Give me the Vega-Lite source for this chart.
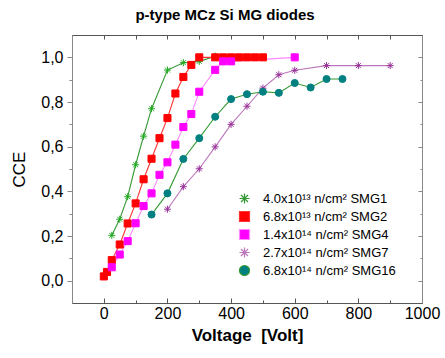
{
  "$schema": "https://vega.github.io/schema/vega-lite/v6.json",
  "width": 350,
  "height": 268,
  "autosize": "none",
  "padding": {"left": 72, "top": 35, "right": 23, "bottom": 55},
  "background": "white",
  "title": {"text": "p-type MCz Si MG diodes", "font": "Liberation Sans", "fontSize": 15, "fontWeight": "bold", "color": "black", "dx": -22, "offset": 12},
  "config": {
    "view": {"stroke": "#666"},
    "axis": {"labelFont": "Liberation Sans", "labelFontSize": 16, "labelColor": "black", "titleFont": "Liberation Sans", "titleColor": "black", "grid": false, "domainColor": "#555", "tickColor": "#555"}
  },
  "data": {"values": [
    {"s": "4.0x10¹³ n/cm² SMG1", "v": 25, "c": 0.203},
    {"s": "4.0x10¹³ n/cm² SMG1", "v": 50, "c": 0.275},
    {"s": "4.0x10¹³ n/cm² SMG1", "v": 75, "c": 0.376},
    {"s": "4.0x10¹³ n/cm² SMG1", "v": 100, "c": 0.519},
    {"s": "4.0x10¹³ n/cm² SMG1", "v": 125, "c": 0.647},
    {"s": "4.0x10¹³ n/cm² SMG1", "v": 150, "c": 0.77},
    {"s": "4.0x10¹³ n/cm² SMG1", "v": 200, "c": 0.943},
    {"s": "4.0x10¹³ n/cm² SMG1", "v": 250, "c": 0.976},
    {"s": "4.0x10¹³ n/cm² SMG1", "v": 300, "c": 0.982},
    {"s": "4.0x10¹³ n/cm² SMG1", "v": 350, "c": 1.005},
    {"s": "6.8x10¹³ n/cm² SMG2", "v": 0, "c": 0.019},
    {"s": "6.8x10¹³ n/cm² SMG2", "v": 10, "c": 0.039},
    {"s": "6.8x10¹³ n/cm² SMG2", "v": 25, "c": 0.092},
    {"s": "6.8x10¹³ n/cm² SMG2", "v": 50, "c": 0.162},
    {"s": "6.8x10¹³ n/cm² SMG2", "v": 75, "c": 0.256},
    {"s": "6.8x10¹³ n/cm² SMG2", "v": 100, "c": 0.346},
    {"s": "6.8x10¹³ n/cm² SMG2", "v": 125, "c": 0.454},
    {"s": "6.8x10¹³ n/cm² SMG2", "v": 150, "c": 0.546},
    {"s": "6.8x10¹³ n/cm² SMG2", "v": 175, "c": 0.638},
    {"s": "6.8x10¹³ n/cm² SMG2", "v": 200, "c": 0.728},
    {"s": "6.8x10¹³ n/cm² SMG2", "v": 225, "c": 0.838},
    {"s": "6.8x10¹³ n/cm² SMG2", "v": 250, "c": 0.912},
    {"s": "6.8x10¹³ n/cm² SMG2", "v": 275, "c": 0.966},
    {"s": "6.8x10¹³ n/cm² SMG2", "v": 300, "c": 1.0},
    {"s": "6.8x10¹³ n/cm² SMG2", "v": 350, "c": 1.0},
    {"s": "6.8x10¹³ n/cm² SMG2", "v": 375, "c": 1.0},
    {"s": "6.8x10¹³ n/cm² SMG2", "v": 400, "c": 1.0},
    {"s": "6.8x10¹³ n/cm² SMG2", "v": 425, "c": 1.0},
    {"s": "6.8x10¹³ n/cm² SMG2", "v": 450, "c": 1.0},
    {"s": "6.8x10¹³ n/cm² SMG2", "v": 475, "c": 1.0},
    {"s": "6.8x10¹³ n/cm² SMG2", "v": 500, "c": 1.0},
    {"s": "1.4x10¹⁴ n/cm² SMG4", "v": 25, "c": 0.06},
    {"s": "1.4x10¹⁴ n/cm² SMG4", "v": 50, "c": 0.117},
    {"s": "1.4x10¹⁴ n/cm² SMG4", "v": 75, "c": 0.177},
    {"s": "1.4x10¹⁴ n/cm² SMG4", "v": 100, "c": 0.257},
    {"s": "1.4x10¹⁴ n/cm² SMG4", "v": 125, "c": 0.334},
    {"s": "1.4x10¹⁴ n/cm² SMG4", "v": 150, "c": 0.391},
    {"s": "1.4x10¹⁴ n/cm² SMG4", "v": 175, "c": 0.474},
    {"s": "1.4x10¹⁴ n/cm² SMG4", "v": 200, "c": 0.53},
    {"s": "1.4x10¹⁴ n/cm² SMG4", "v": 225, "c": 0.609},
    {"s": "1.4x10¹⁴ n/cm² SMG4", "v": 250, "c": 0.688},
    {"s": "1.4x10¹⁴ n/cm² SMG4", "v": 275, "c": 0.746},
    {"s": "1.4x10¹⁴ n/cm² SMG4", "v": 300, "c": 0.846},
    {"s": "1.4x10¹⁴ n/cm² SMG4", "v": 350, "c": 0.944},
    {"s": "1.4x10¹⁴ n/cm² SMG4", "v": 375, "c": 0.982},
    {"s": "1.4x10¹⁴ n/cm² SMG4", "v": 400, "c": 0.982},
    {"s": "1.4x10¹⁴ n/cm² SMG4", "v": 600, "c": 1.0},
    {"s": "2.7x10¹⁴ n/cm² SMG7", "v": 200, "c": 0.32},
    {"s": "2.7x10¹⁴ n/cm² SMG7", "v": 250, "c": 0.421},
    {"s": "2.7x10¹⁴ n/cm² SMG7", "v": 300, "c": 0.501},
    {"s": "2.7x10¹⁴ n/cm² SMG7", "v": 350, "c": 0.599},
    {"s": "2.7x10¹⁴ n/cm² SMG7", "v": 400, "c": 0.7},
    {"s": "2.7x10¹⁴ n/cm² SMG7", "v": 450, "c": 0.781},
    {"s": "2.7x10¹⁴ n/cm² SMG7", "v": 500, "c": 0.862},
    {"s": "2.7x10¹⁴ n/cm² SMG7", "v": 550, "c": 0.922},
    {"s": "2.7x10¹⁴ n/cm² SMG7", "v": 600, "c": 0.942},
    {"s": "2.7x10¹⁴ n/cm² SMG7", "v": 700, "c": 0.963},
    {"s": "2.7x10¹⁴ n/cm² SMG7", "v": 800, "c": 0.963},
    {"s": "2.7x10¹⁴ n/cm² SMG7", "v": 900, "c": 0.963},
    {"s": "6.8x10¹⁴ n/cm² SMG16", "v": 150, "c": 0.296},
    {"s": "6.8x10¹⁴ n/cm² SMG16", "v": 200, "c": 0.391},
    {"s": "6.8x10¹⁴ n/cm² SMG16", "v": 250, "c": 0.545},
    {"s": "6.8x10¹⁴ n/cm² SMG16", "v": 300, "c": 0.638},
    {"s": "6.8x10¹⁴ n/cm² SMG16", "v": 350, "c": 0.734},
    {"s": "6.8x10¹⁴ n/cm² SMG16", "v": 400, "c": 0.813},
    {"s": "6.8x10¹⁴ n/cm² SMG16", "v": 450, "c": 0.835},
    {"s": "6.8x10¹⁴ n/cm² SMG16", "v": 500, "c": 0.846},
    {"s": "6.8x10¹⁴ n/cm² SMG16", "v": 550, "c": 0.841},
    {"s": "6.8x10¹⁴ n/cm² SMG16", "v": 600, "c": 0.885},
    {"s": "6.8x10¹⁴ n/cm² SMG16", "v": 650, "c": 0.865},
    {"s": "6.8x10¹⁴ n/cm² SMG16", "v": 700, "c": 0.903},
    {"s": "6.8x10¹⁴ n/cm² SMG16", "v": 750, "c": 0.903}
  ]},
  "layer": [
    {
      "mark": {"type": "line", "strokeWidth": 1.1},
      "encoding": {
        "x": {"field": "v", "type": "quantitative", "scale": {"domain": [-100, 1000], "nice": false, "zero": false},
          "axis": {"orient": "bottom", "title": "Voltage\u00a0 [Volt]", "titleFontSize": 17, "titleFontWeight": "bold", "titlePadding": 6,
            "values": [0, 100, 200, 300, 400, 500, 600, 700, 800, 900, 1000],
            "labelExpr": "datum.value % 200 == 0 ? format(datum.value, 'd') : ''",
            "tickSize": {"condition": {"test": "datum.value % 200 == 0", "value": -5}, "value": -3},
            "labelPadding": 7, "labelFlush": false}},
        "y": {"field": "c", "type": "quantitative", "scale": {"domain": [-0.1, 1.1], "nice": false, "zero": false},
          "axis": {"orient": "left", "title": "CCE", "titleFontSize": 17, "titleFontWeight": "normal", "titlePadding": 12,
            "values": [0, 0.1, 0.2, 0.3, 0.4, 0.5, 0.6, 0.7, 0.8, 0.9, 1.0],
            "labelExpr": "round(datum.value*10) % 2 == 0 ? replace(format(datum.value, '.1f'), '.', ',') : ''",
            "tickSize": {"condition": {"test": "round(datum.value*10) % 2 == 0", "value": 5}, "value": 3},
            "labelPadding": 4, "domainColor": "#888", "tickColor": "#888"}},
        "color": {"field": "s", "type": "nominal",
          "scale": {"domain": ["4.0x10¹³ n/cm² SMG1", "6.8x10¹³ n/cm² SMG2", "1.4x10¹⁴ n/cm² SMG4", "2.7x10¹⁴ n/cm² SMG7", "6.8x10¹⁴ n/cm² SMG16"],
            "range": ["#339933", "#ff3333", "#ff88ff", "#bb77bb", "#339933"]},
          "legend": {"title": null, "orient": "none", "legendX": 166, "legendY": 157,
            "labelFont": "Liberation Sans", "labelFontSize": 13, "labelColor": "black",
            "symbolSize": 100, "labelOffset": 12, "rowPadding": 3, "symbolStrokeWidth": 1.2}
        }
      }
    },
    {
      "mark": {"type": "point", "filled": true, "size": 50, "strokeWidth": 1, "opacity": 1},
      "encoding": {
        "x": {"field": "v", "type": "quantitative",
          "axis": {"orient": "top", "title": null, "labels": false, "values": [0, 100, 200, 300, 400, 500, 600, 700, 800, 900, 1000], "tickSize": -4}},
        "y": {"field": "c", "type": "quantitative",
          "axis": {"orient": "right", "title": null, "labels": false, "values": [0, 0.1, 0.2, 0.3, 0.4, 0.5, 0.6, 0.7, 0.8, 0.9, 1.0],
            "tickSize": {"condition": {"test": "round(datum.value*10) % 2 == 0", "value": -4}, "value": -2}, "domainColor": "#888", "tickColor": "#888"}},
        "fill": {"field": "s", "type": "nominal", "legend": null,
          "scale": {"domain": ["4.0x10¹³ n/cm² SMG1", "6.8x10¹³ n/cm² SMG2", "1.4x10¹⁴ n/cm² SMG4", "2.7x10¹⁴ n/cm² SMG7", "6.8x10¹⁴ n/cm² SMG16"],
            "range": ["#22aa22", "#ff0000", "#ff00ff", "#993399", "#008080"]}},
        "stroke": {"field": "s", "type": "nominal", "legend": null,
          "scale": {"domain": ["4.0x10¹³ n/cm² SMG1", "6.8x10¹³ n/cm² SMG2", "1.4x10¹⁴ n/cm² SMG4", "2.7x10¹⁴ n/cm² SMG7", "6.8x10¹⁴ n/cm² SMG16"],
            "range": ["#22aa22", "#ff0000", "#ff00ff", "#993399", "#008080"]}},
        "shape": {"field": "s", "type": "nominal", "legend": null,
          "scale": {"domain": ["4.0x10¹³ n/cm² SMG1", "6.8x10¹³ n/cm² SMG2", "1.4x10¹⁴ n/cm² SMG4", "2.7x10¹⁴ n/cm² SMG7", "6.8x10¹⁴ n/cm² SMG16"],
            "range": ["M-1,0H1M0,-1V1M-0.7,-0.7L0.7,0.7M-0.7,0.7L0.7,-0.7", "square", "square", "M-1,0H1M0,-1V1M-0.7,-0.7L0.7,0.7M-0.7,0.7L0.7,-0.7", "circle"]}}
      }
    }
  ],
  "resolve": {"axis": {"x": "independent", "y": "independent"}}
}
